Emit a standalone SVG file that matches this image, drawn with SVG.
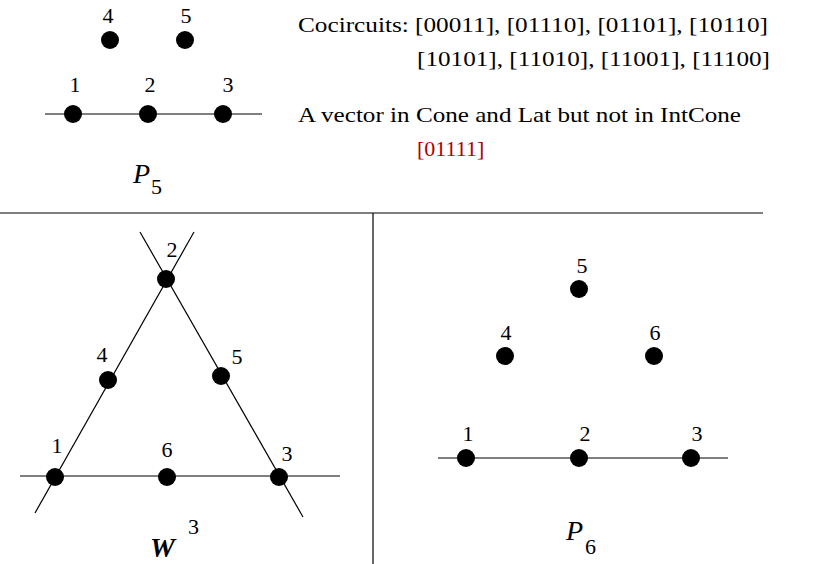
<svg xmlns="http://www.w3.org/2000/svg" width="814" height="564" viewBox="0 0 814 564">
<style>
text{font-family:"Liberation Serif",serif;font-size:22px;fill:#000}
.n{text-anchor:middle}
.big{font-style:italic;font-size:28px}
line{stroke:#000;stroke-width:1.2}
circle{fill:#000}
</style>
<rect width="814" height="564" fill="#fff"/>
<g id="connectors">
<line x1="45" y1="114" x2="262" y2="114"/>
<line x1="0" y1="213" x2="763" y2="213"/>
<line x1="373" y1="213" x2="373" y2="564"/>
<line x1="194" y1="232" x2="35" y2="513"/>
<line x1="140" y1="232" x2="303" y2="517"/>
<line x1="20" y1="476" x2="340" y2="476"/>
<line x1="438" y1="458" x2="728" y2="458"/>
</g>
<g id="p5">
<circle cx="110" cy="40" r="9"/><text class="n" x="108" y="23">4</text>
<circle cx="185" cy="40" r="9"/><text class="n" x="186" y="23">5</text>
<circle cx="73" cy="114" r="9"/><text class="n" x="75" y="92">1</text>
<circle cx="148" cy="114" r="9"/><text class="n" x="150" y="92">2</text>
<circle cx="223" cy="114" r="9"/><text class="n" x="228" y="92">3</text>
<text class="big" x="133" y="183">P</text><text x="151" y="194">5</text>
</g>
<g id="text">
<text x="298" y="32" textLength="470" lengthAdjust="spacingAndGlyphs">Cocircuits: [00011], [01110], [01101], [10110]</text>
<text x="417" y="66" textLength="353" lengthAdjust="spacingAndGlyphs">[10101], [11010], [11001], [11100]</text>
<text x="298" y="122" textLength="443" lengthAdjust="spacingAndGlyphs">A vector in Cone and Lat but not in IntCone</text>
<text x="417" y="156" style="fill:#b00000">[01111]</text>
</g>
<g id="w3">
<circle cx="166" cy="279" r="9"/><text class="n" x="172" y="257">2</text>
<circle cx="108" cy="380" r="9"/><text class="n" x="102" y="362">4</text>
<circle cx="221" cy="376" r="9"/><text class="n" x="237" y="364">5</text>
<circle cx="55" cy="477" r="9"/><text class="n" x="57" y="453">1</text>
<circle cx="167" cy="477" r="9"/><text class="n" x="167" y="457">6</text>
<circle cx="279" cy="477" r="9"/><text class="n" x="287" y="461">3</text>
<text class="big" x="150" y="557" style="font-weight:bold">W</text><text x="188" y="534">3</text>
</g>
<g id="p6">
<circle cx="579" cy="289" r="9"/><text class="n" x="582" y="273">5</text>
<circle cx="505" cy="356" r="9"/><text class="n" x="506" y="340">4</text>
<circle cx="654" cy="356" r="9"/><text class="n" x="655" y="340">6</text>
<circle cx="466" cy="458" r="9"/><text class="n" x="468" y="441">1</text>
<circle cx="579" cy="458" r="9"/><text class="n" x="585" y="441">2</text>
<circle cx="691" cy="458" r="9"/><text class="n" x="697" y="441">3</text>
<text class="big" x="566" y="540">P</text><text x="585" y="554">6</text>
</g>
</svg>
